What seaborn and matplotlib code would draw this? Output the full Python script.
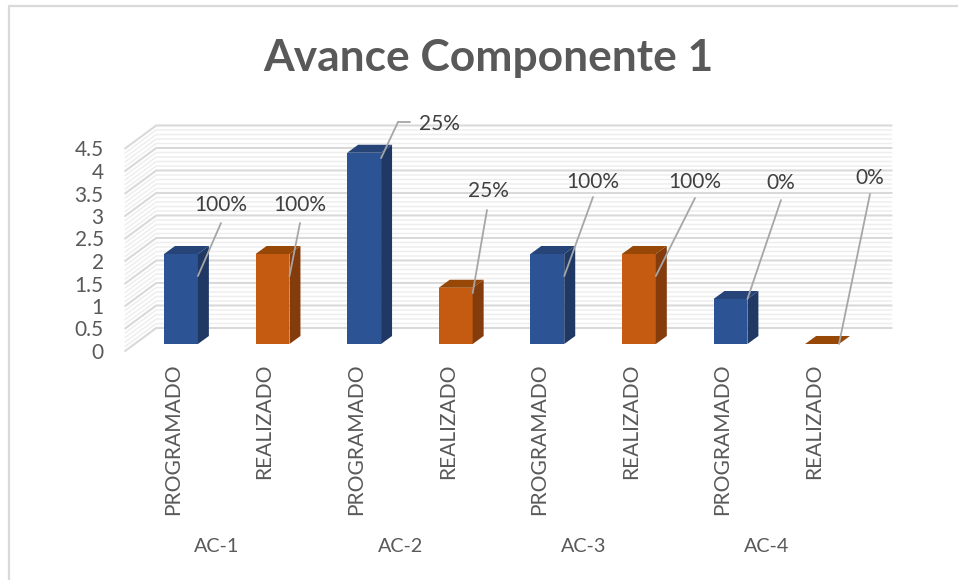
import matplotlib
matplotlib.use("Agg")
import matplotlib.pyplot as plt
from matplotlib.lines import Line2D
from matplotlib.patches import Polygon
from matplotlib.transforms import ScaledTranslation, blended_transform_factory
import numpy as np
import pandas as pd
import seaborn as sns

# datos del grafico
posiciones = ["p1", "r1", "p2", "r2", "p3", "r3", "p4", "r4"]
etiquetas = ["PROGRAMADO", "REALIZADO"] * 4
estado = ["PROGRAMADO", "REALIZADO"] * 4
valores = [2, 2, 4.25, 1.25, 2, 2, 1, 0]
porcentajes = ["100%", "100%", "25%", "25%", "100%", "100%", "0%", "0%"]
grupos = ["AC-1", "AC-2", "AC-3", "AC-4"]
ticks_y = [0, 0.5, 1, 1.5, 2, 2.5, 3, 3.5, 4, 4.5]
ticks_y_txt = ["0", "0.5", "1", "1.5", "2", "2.5", "3", "3.5", "4", "4.5"]

# layout (pixeles de la imagen)
W, H = 958, 580
pos_texto = [(221, 205), (300, 205), (439, 124), (488, 191), (593, 182), (695, 182), (781, 183), (870, 178)]
fin_guia = [(221, 223), (300, 223), (398, 122), (487, 210), (593, 197), (695, 198), (781, 200), (870, 194)]
anclaje = [0.49, 0.49, 0.12, 0.12, 0.49, 0.49, 0, 0]

sns.set_theme(style="white")
plt.rcParams["font.family"] = ["Lato", "DejaVu Sans"]

colores = {"PROGRAMADO": "#2C5494", "REALIZADO": "#C55A11"}
lado = {"PROGRAMADO": "#1F3864", "REALIZADO": "#843C0C"}
tapa = {"PROGRAMADO": "#264478", "REALIZADO": "#974706"}
gris_txt = "#595959"


def px(x, y):
    return x / W, 1 - y / H


df = pd.DataFrame({"pos": posiciones, "estado": estado, "valor": valores})

fig = plt.figure(figsize=(W / 100, H / 100), dpi=100)
ax = fig.add_axes([126 / W, 1 - 344 / H, (877 - 126) / W, (344 - 141.5) / H])
sns.barplot(data=df, x="pos", y="valor", hue="estado", palette=colores, order=posiciones,
            dodge=False, width=0.37, legend=False, saturation=1, ax=ax, zorder=3,
            edgecolor="none", linewidth=0)
ax.set_xlim(-0.6, 7.6)
ax.set_ylim(0, 4.5)
ax.set_xlabel("")
ax.set_ylabel("")
sns.despine(ax=ax, left=True, bottom=True)
ax.patch.set_alpha(0)

# paredes: lineas de la rejilla en perspectiva
x_frente, x_fondo, x_fin = -0.61, -0.27, 7.76
dy_frente, dy_fondo = -0.156, 0.356
for v in np.arange(0, 45) / 10:
    if round(v * 10) % 5 != 0:
        ax.add_line(Line2D([x_frente, x_fondo, x_fin], [v + dy_frente, v + dy_fondo, v + dy_fondo],
                           color="#EEEEEE", lw=1.1, clip_on=False, zorder=1))
for v in ticks_y:
    ax.add_line(Line2D([x_frente, x_fondo, x_fin], [v + dy_frente, v + dy_fondo, v + dy_fondo],
                       color="#D9D9D9", lw=1.5, clip_on=False, zorder=2))

# caras laterales y tapas de cada barra
dx, dy = 0.12, 0.178
barras = sorted(ax.patches, key=lambda b: b.get_x())
for barra, est in zip(barras, estado):
    x0 = barra.get_x()
    x1 = x0 + barra.get_width()
    h = barra.get_height()
    ax.add_patch(Polygon([(x1, 0), (x1 + dx, dy), (x1 + dx, h + dy), (x1, h)],
                         facecolor=lado[est], edgecolor="none", clip_on=False, zorder=3))
    ax.add_patch(Polygon([(x0, h), (x0 + dx, h + dy), (x1 + dx, h + dy), (x1, h)],
                         facecolor=tapa[est], edgecolor="none", clip_on=False, zorder=3))

# ejes
ax.set_yticks(ticks_y)
ax.set_yticklabels(ticks_y_txt)
ax.set_xticks(range(len(etiquetas)))
ax.set_xticklabels(etiquetas, rotation=90)
ax.tick_params(axis="y", length=0, pad=16, labelsize=15, labelcolor=gris_txt)
ax.tick_params(axis="x", length=0, pad=14, labelsize=15.1, labelcolor=gris_txt)
for lab in ax.get_yticklabels():
    lab.set_transform(lab.get_transform() + ScaledTranslation(0, -7 / 100, fig.dpi_scale_trans))
for lab in ax.get_xticklabels():
    lab.set_transform(lab.get_transform() + ScaledTranslation(-8 / 100, 0, fig.dpi_scale_trans))

# grupos
trans_grupo = blended_transform_factory(ax.transData, fig.transFigure)
for i, g in enumerate(grupos):
    ax.text(2 * i + 0.394, px(0, 547)[1], g, transform=trans_grupo,
            ha="center", va="center", fontsize=14.2, color=gris_txt, clip_on=False)

# etiquetas de porcentaje con linea guia
for barra, val, txt, pt, fin, anc in zip(barras, valores, porcentajes, pos_texto, fin_guia, anclaje):
    xa = barra.get_x() + barra.get_width()
    ya = val - anc
    ax.annotate("", xy=(xa, ya), xycoords="data", xytext=px(*fin), textcoords="figure fraction",
                arrowprops=dict(arrowstyle="-", color="#A6A6A6", lw=1.3, shrinkA=0, shrinkB=0),
                zorder=5, annotation_clip=False)
    fig.text(*px(*pt), txt, ha="center", va="center", fontsize=15, color="#404040", zorder=6)
fig.add_artist(Line2D([px(398, 0)[0], px(410, 0)[0]], [px(0, 122)[1]] * 2, color="#A6A6A6", lw=1.3))

fig.text(*px(488, 58), "Avance Componente 1", ha="center", va="center", fontsize=31.9,
         fontweight="bold", color=gris_txt)

# marco del grafico
fig.add_artist(Line2D([px(8.5, 0)[0], px(8.5, 0)[0], 1], [0, px(0, 5.5)[1], px(0, 5.5)[1]],
                      color="#D9D9D9", lw=1.6))

fig.savefig("out.png", dpi=100)
